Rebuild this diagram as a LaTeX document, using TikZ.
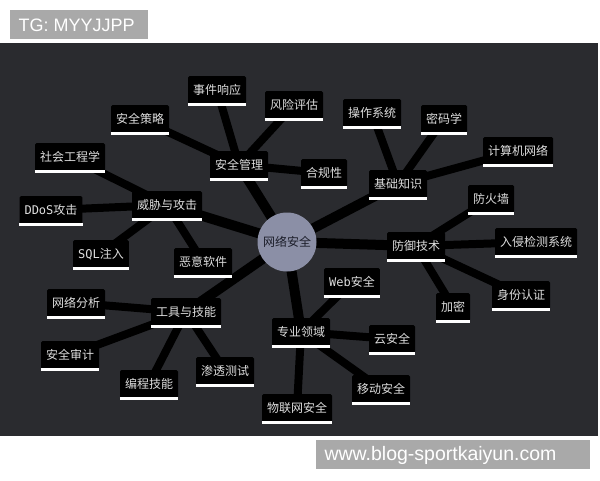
\documentclass[tikz,border=0pt]{standalone}
\usepackage{fontspec}
\setmainfont{Liberation Sans}
\newfontfamily\cjk{Noto Sans CJK SC}
\newfontfamily\mono{DejaVu Sans Mono}
\usetikzlibrary{backgrounds}

\definecolor{board}{HTML}{2A2B2F}
\definecolor{hubfill}{HTML}{8B8FA6}
\definecolor{hubtext}{HTML}{1C1E2A}
\definecolor{boxtext}{HTML}{DEDEDE}
\definecolor{tagfill}{HTML}{A9A9A9}

\pgfdeclarelayer{edges}
\pgfsetlayers{background,edges,main}

\tikzset{
  topic/.style={fill=black, text=boxtext, rounded corners=1.5pt, inner xsep=5pt,
    minimum height=28pt, font=\cjk\fontsize{12}{14}\selectfont,
    append after command={(\tikzlastnode.south west) edge[white,line width=2.6pt,sharp corners] (\tikzlastnode.south east)}},
  trunk/.style={black, line width=10pt},
  twig/.style={black, line width=8pt},
  tag/.style={fill=tagfill, text=white, inner sep=0pt, anchor=north west}
}

\begin{document}
\begin{tikzpicture}[x=1pt,y=-1pt]
\useasboundingbox (0,0) rectangle (600,480);

% dark board
\begin{pgfonlayer}{background}
\fill[board] (0,43) rectangle (598,436);
\end{pgfonlayer}

% corner tags
\node[tag, minimum width=138pt, minimum height=29pt] (tg) at (10,10) {};
\node[text=white, font=\fontsize{18}{20}\selectfont, anchor=west] at (15,25) {TG: MYYJJPP};
\node[tag, minimum width=274pt, minimum height=29pt] (site) at (316,440) {};
\node[text=white, font=\fontsize{19.5}{22}\selectfont, anchor=west] at (321,455) {www.blog-sportkaiyun.com};

% hub
\node[circle, fill=hubfill, text=hubtext, minimum size=59pt, inner sep=0pt,
  font=\cjk\fontsize{12}{14}\selectfont] (net) at (287,242) {网络安全};

% branches
\node[topic] (mgmt) at (239,165) {安全管理};
\node[topic] (threat) at (167,205) {威胁与攻击};
\node[topic] (basic) at (398,184) {基础知识};
\node[topic] (defense) at (416,246) {防御技术};
\node[topic] (tools) at (186,312) {工具与技能};
\node[topic] (domain) at (301,332) {专业领域};

% leaves of mgmt
\node[topic] (incident) at (217,90) {事件响应};
\node[topic] (risk) at (294,105) {风险评估};
\node[topic] (policy) at (140,119) {安全策略};
\node[topic] (comply) at (324,173) {合规性};

% leaves of threat
\node[topic] (social) at (70,157) {社会工程学};
\node[topic] (ddos) at (51,210) {{\mono DDoS}攻击};
\node[topic] (sqli) at (101,254) {{\mono SQL}注入};
\node[topic] (malware) at (203,262) {恶意软件};

% leaves of basic
\node[topic] (os) at (372,113) {操作系统};
\node[topic] (crypto) at (444,119) {密码学};
\node[topic] (network) at (518,151) {计算机网络};

% leaves of defense
\node[topic] (firewall) at (491,199) {防火墙};
\node[topic] (ids) at (536,242) {入侵检测系统};
\node[topic] (encrypt) at (453,307) {加密};
\node[topic] (auth) at (521,295) {身份认证};

% leaves of tools
\node[topic] (analysis) at (76,303) {网络分析};
\node[topic] (audit) at (70,355) {安全审计};
\node[topic] (coding) at (149,384) {编程技能};
\node[topic] (pentest) at (225,371) {渗透测试};

% leaves of domain
\node[topic] (web) at (352,282) {{\mono Web}安全};
\node[topic] (cloud) at (392,339) {云安全};
\node[topic] (mobile) at (381,389) {移动安全};
\node[topic] (iot) at (297,408) {物联网安全};

% connectors
\begin{pgfonlayer}{edges}
\foreach \b in {mgmt,threat,basic,defense,tools,domain}
  \draw[trunk] (net.center) -- (\b.center);
\foreach \l in {incident,risk,policy,comply}
  \draw[twig] (mgmt.center) -- (\l.center);
\foreach \l in {social,ddos,sqli,malware}
  \draw[twig] (threat.center) -- (\l.center);
\foreach \l in {os,crypto,network}
  \draw[twig] (basic.center) -- (\l.center);
\foreach \l in {firewall,ids,encrypt,auth}
  \draw[twig] (defense.center) -- (\l.center);
\foreach \l in {analysis,audit,coding,pentest}
  \draw[twig] (tools.center) -- (\l.center);
\foreach \l in {web,cloud,mobile,iot}
  \draw[twig] (domain.center) -- (\l.center);
\end{pgfonlayer}
\end{tikzpicture}
\end{document}
